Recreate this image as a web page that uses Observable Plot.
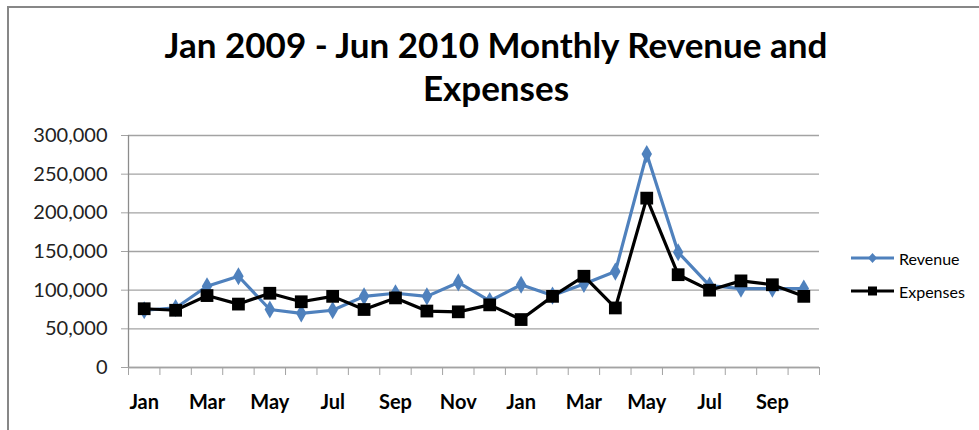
<!DOCTYPE html>
<html>
<head>
<meta charset="utf-8">
<script src="https://cdn.jsdelivr.net/npm/d3@7"></script>
<script src="https://cdn.jsdelivr.net/npm/@observablehq/plot@0.6"></script>
<style>
  html, body { margin: 0; padding: 0; background: #fff; }
  body { width: 979px; height: 430px; position: relative; overflow: hidden; font-family: Lato, "Open Sans", sans-serif; }
  #frame { position: absolute; left: 7px; top: 6px; width: 1100px; height: 600px; border: 2px solid #878787; box-sizing: border-box; }
  #title { position: absolute; left: 0; top: 23px; width: 992px; text-align: center; font-weight: bold; font-size: 35px; line-height: 43px; color: #000; }
  #chart { position: absolute; left: 0; top: 110px; }
  .leg { position: absolute; left: 851px; display: flex; align-items: center; font-size: 16px; color: #000; }
  .leg svg { margin-right: 5px; }
</style>
</head>
<body>
<div id="frame"></div>
<div id="title">Jan 2009 - Jun 2010 Monthly Revenue and<br>Expenses</div>
<div id="chart"></div>
<div class="leg" id="legRev" style="top:248px"></div>
<div class="leg" id="legExp" style="top:281px"></div>
<script>
const months = ["Jan","Feb","Mar","Apr","May","Jun","Jul","Aug","Sep","Oct","Nov","Dec",
                "Jan","Feb","Mar","Apr","May","Jun","Jul","Aug","Sep","Oct"];
const revenue = [74000,77000,105000,118000,75000,70000,74000,92000,96000,92000,110000,86000,
                 107000,93000,108000,124000,276000,149000,106000,102000,102000,102000];
const expenses = [76000,74000,93000,82000,96000,85000,92000,75000,90000,73000,72000,81000,
                  62000,92000,118000,77000,219000,120000,100000,112000,107000,92000];
const yTicks = [0,50000,100000,150000,200000,250000,300000];
const seriesNames = ["Revenue","Expenses"];
const seriesColors = ["#4f81bd","#000000"];

const revData = revenue.map((v,i)=>({i, v}));
const expData = expenses.map((v,i)=>({i, v}));
const idx = months.map((m,i)=>i);
const boundaries = [-0.5, ...idx.map(i=>i+0.5)];
const labelIdx = idx.filter(i=>i%2===0);

const chart = Plot.plot({
  width: 979, height: 320,
  marginLeft: 128, marginRight: 160, marginTop: 25, marginBottom: 63,
  x: {type: "linear", domain: [-0.5, months.length - 0.5], axis: null},
  y: {domain: [0, 300000], axis: null},
  style: {fontFamily: "Lato, 'Open Sans', sans-serif", background: "transparent", overflow: "visible"},
  marks: [
    Plot.gridY(yTicks, {stroke: "#a3a3a3", strokeOpacity: 1, strokeWidth: 1.3}),
    Plot.axisY(yTicks, {anchor: "left", tickSize: 7, tickPadding: 14, stroke: "#a3a3a3", strokeOpacity: 1,
      tickFormat: d3.format(","), fontSize: 20, fill: "#222", label: null}),
    Plot.ruleX([-0.5], {y1: 0, y2: 300000, stroke: "#8c8c8c", strokeWidth: 1.3}),
    Plot.ruleY([0], {stroke: "#a3a3a3", strokeWidth: 1.3}),
    Plot.axisX(boundaries, {anchor: "bottom", tickSize: 8, stroke: "#a3a3a3", strokeOpacity: 1, tickFormat: () => "", label: null}),
    Plot.axisX(labelIdx, {anchor: "bottom", tickSize: 0, tickPadding: 27, tickFormat: i => months[i],
      fontSize: 20, fontWeight: "bold", fill: "#000", label: null}),
    Plot.line(revData, {x: "i", y: "v", stroke: seriesColors[0], strokeWidth: 3.2}),
    Plot.dot(revData, {x: "i", y: "v", symbol: "diamond", r: 5.5, fill: seriesColors[0], stroke: "none"}),
    Plot.line(expData, {x: "i", y: "v", stroke: seriesColors[1], strokeWidth: 3.2}),
    Plot.dot(expData, {x: "i", y: "v", symbol: "square", r: 7.2, fill: seriesColors[1], stroke: "none"})
  ]
});
document.getElementById("chart").appendChild(chart);

function legendSwatch(color, symbol) {
  const ns = "http://www.w3.org/2000/svg";
  const svg = document.createElementNS(ns, "svg");
  svg.setAttribute("width", 43); svg.setAttribute("height", 20);
  const line = document.createElementNS(ns, "line");
  line.setAttribute("x1", 0); line.setAttribute("x2", 43);
  line.setAttribute("y1", 10); line.setAttribute("y2", 10);
  line.setAttribute("stroke", color); line.setAttribute("stroke-width", 3);
  svg.appendChild(line);
  const p = document.createElementNS(ns, "path");
  p.setAttribute("d", symbol === "diamond" ? "M21.5,5L26,10L21.5,15L17,10Z" : "M17,5.5H26V14.5H17Z");
  p.setAttribute("fill", color);
  svg.appendChild(p);
  return svg;
}
[["legRev", 0, "diamond"], ["legExp", 1, "square"]].forEach(([id, k, sym]) => {
  const el = document.getElementById(id);
  el.appendChild(legendSwatch(seriesColors[k], sym));
  const t = document.createElement("span");
  t.textContent = seriesNames[k];
  el.appendChild(t);
});
</script>
</body>
</html>
